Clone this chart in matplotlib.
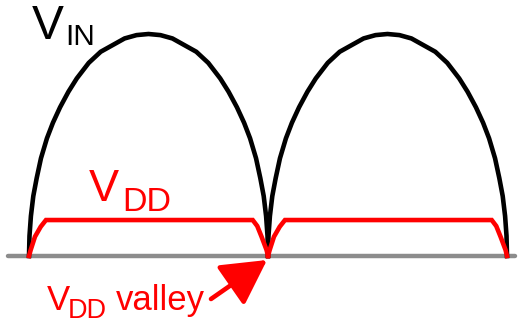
import matplotlib
matplotlib.use("Agg")
import matplotlib.pyplot as plt
import numpy as np
from matplotlib.patches import FancyArrowPatch

plt.rcParams['font.family'] = ['Liberation Sans', 'DejaVu Sans']

# half-period shape of the rectified input (fraction of the period, height)
vin_frac = [0, 0.002, 0.008, 0.018, 0.032, 0.05, 0.075, 0.1, 0.13, 0.165,
            0.2, 0.25, 0.3, 0.35, 0.4, 0.45, 0.5]
vin_half = [0, 0.09, 0.18, 0.27, 0.35, 0.44, 0.53, 0.60, 0.67, 0.74,
            0.80, 0.87, 0.92, 0.95, 0.98, 0.995, 1.0]

# clipped supply over one half-period
vdd_frac = [0, 0.007, 0.025, 0.049, 0.071, 0.936, 0.955, 0.973, 0.994, 1.0]
vdd_val = [0, 0.027, 0.087, 0.132, 0.162, 0.162, 0.135, 0.087, 0.027, 0]

n_periods = 2

# build the full traces from the per-period shapes
f_half = np.array(vin_frac)
h_half = np.array(vin_half)
one_x = np.concatenate([f_half, 1 - f_half[::-1][1:]])
one_y = np.concatenate([h_half, h_half[::-1][1:]])

fig = plt.figure(figsize=(5.2, 3.22), dpi=100)
ax = fig.add_axes([0, 0, 1, 1])

# axis limits so that period 0..2 sits at pixels 29..507, height 0..1 at 256..34
def px(x):
    return (x - 29) / 239.0

def py(y):
    return (256 - y) / 222.0

ax.set_xlim(px(0), px(520))
ax.set_ylim(py(322), py(0))
ax.axis('off')

ax.plot([px(8), px(515)], [0, 0], color='#8c8c8c', lw=3.2,
        solid_capstyle='round', zorder=1)

for k in range(n_periods):
    ax.plot(one_x + k, one_y, color='black', lw=3.3, zorder=2,
            solid_joinstyle='round')
    ax.plot(np.array(vdd_frac) + k, vdd_val, color='#ff0000', lw=3.3,
            zorder=3, solid_joinstyle='miter')

# labels
ax.text(px(32), py(39), 'V', fontsize=34.5, color='black', va='baseline', ha='left')
ax.text(px(65), py(45), 'IN', fontsize=21.5, color='black', va='baseline', ha='left')

ax.text(px(89), py(201), 'V', fontsize=32.5, color='#ff0000', va='baseline', ha='left')
ax.text(px(122), py(211), 'DD', fontsize=24.5, color='#ff0000', va='baseline', ha='left')

ax.text(px(47), py(310), 'V', fontsize=25, color='#ff0000', va='baseline', ha='left')
ax.text(px(68), py(318), 'DD', fontsize=19.5, color='#ff0000', va='baseline', ha='left')
ax.text(px(116), py(310), 'valley', fontsize=25, color='#ff0000', va='baseline', ha='left')

arrow = FancyArrowPatch((px(211), py(299)), (px(267), py(260)),
                        arrowstyle='-|>,head_length=1.1,head_width=0.6',
                        mutation_scale=25, lw=3.3, color='#ff0000',
                        shrinkA=0, shrinkB=0, zorder=4)
ax.add_patch(arrow)

fig.savefig('out.png', dpi=100)
